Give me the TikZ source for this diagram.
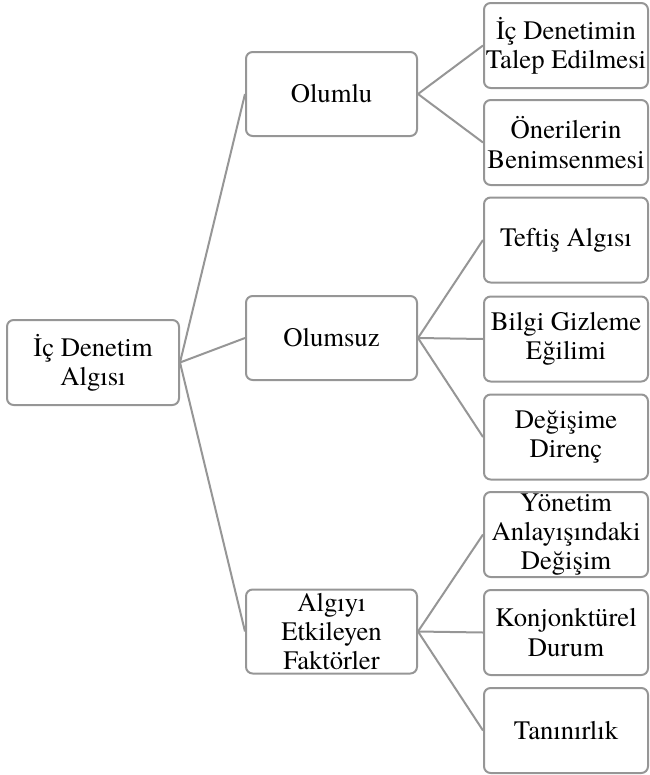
\documentclass[tikz,border=0pt]{standalone}
\usepackage{fontspec}
\setmainfont{texgyretermes-regular.otf}
\definecolor{kenar}{RGB}{150,150,150}
\tikzset{every picture/.style={line width=0.75pt}}

\begin{document}
\begin{tikzpicture}[x=0.75pt,y=0.75pt,yscale=-1,xscale=1,
	kutu/.style={draw=kenar, line width=1.5pt, rounded corners=5pt, align=center, inner sep=0pt, font=\fontsize{20}{22}\selectfont},
	anakutu/.style={kutu, minimum width=129pt, minimum height=63.75pt},
	ortakutu/.style={kutu, minimum width=128.25pt, minimum height=63pt},
	yaprak/.style={kutu, minimum width=123pt, minimum height=63.75pt},
	bag/.style={draw=kenar, line width=1.5pt}]
		%uncomment if require: \path (0,775); %set diagram left start at 0, and has height of 775
		\useasboundingbox (0,0) rectangle (650,775);
		
		% Root
		\node [anakutu] (kok) at (93,362.5) {İç Denetim\\Algısı};
		
		% Middle level
		\node [ortakutu] (olumlu) at (331.5,94) {Olumlu};
		\node [ortakutu] (olumsuz) at (331.5,338) {Olumsuz};
		\node [ortakutu] (faktor) at (331.5,631.5) {Algıyı\\Etkileyen\\Faktörler};
		
		% Leaves
		\node [yaprak] (talep) at (566,45.5) {İç Denetimin\\Talep Edilmesi};
		\node [yaprak] (oneri) at (566,142.5) {Önerilerin\\Benimsenmesi};
		\node [yaprak] (teftis) at (566,240) {Teftiş Algısı};
		\node [yaprak] (bilgi) at (566,339) {Bilgi Gizleme\\Eğilimi};
		\node [yaprak] (direnc) at (566,437) {Değişime\\Direnç};
		\node [yaprak] (yonetim) at (566,534.5) {Yönetim\\Anlayışındaki\\Değişim};
		\node [yaprak] (konjonktur) at (566,632.5) {Konjonktürel\\Durum};
		\node [yaprak] (taninirlik) at (566,730.5) {Tanınırlık};
		
		%Straight Lines
		\draw [bag] (kok.east) -- (olumlu.west);
		\draw [bag] (kok.east) -- (olumsuz.west);
		\draw [bag] (kok.east) -- (faktor.west);
		%Straight Lines
		\draw [bag] (olumlu.east) -- (talep.west);
		\draw [bag] (olumlu.east) -- (oneri.west);
		\draw [bag] (olumsuz.east) -- (teftis.west);
		\draw [bag] (olumsuz.east) -- (bilgi.west);
		\draw [bag] (olumsuz.east) -- (direnc.west);
		\draw [bag] (faktor.east) -- (yonetim.west);
		\draw [bag] (faktor.east) -- (konjonktur.west);
		\draw [bag] (faktor.east) -- (taninirlik.west);
\end{tikzpicture}
\end{document}
